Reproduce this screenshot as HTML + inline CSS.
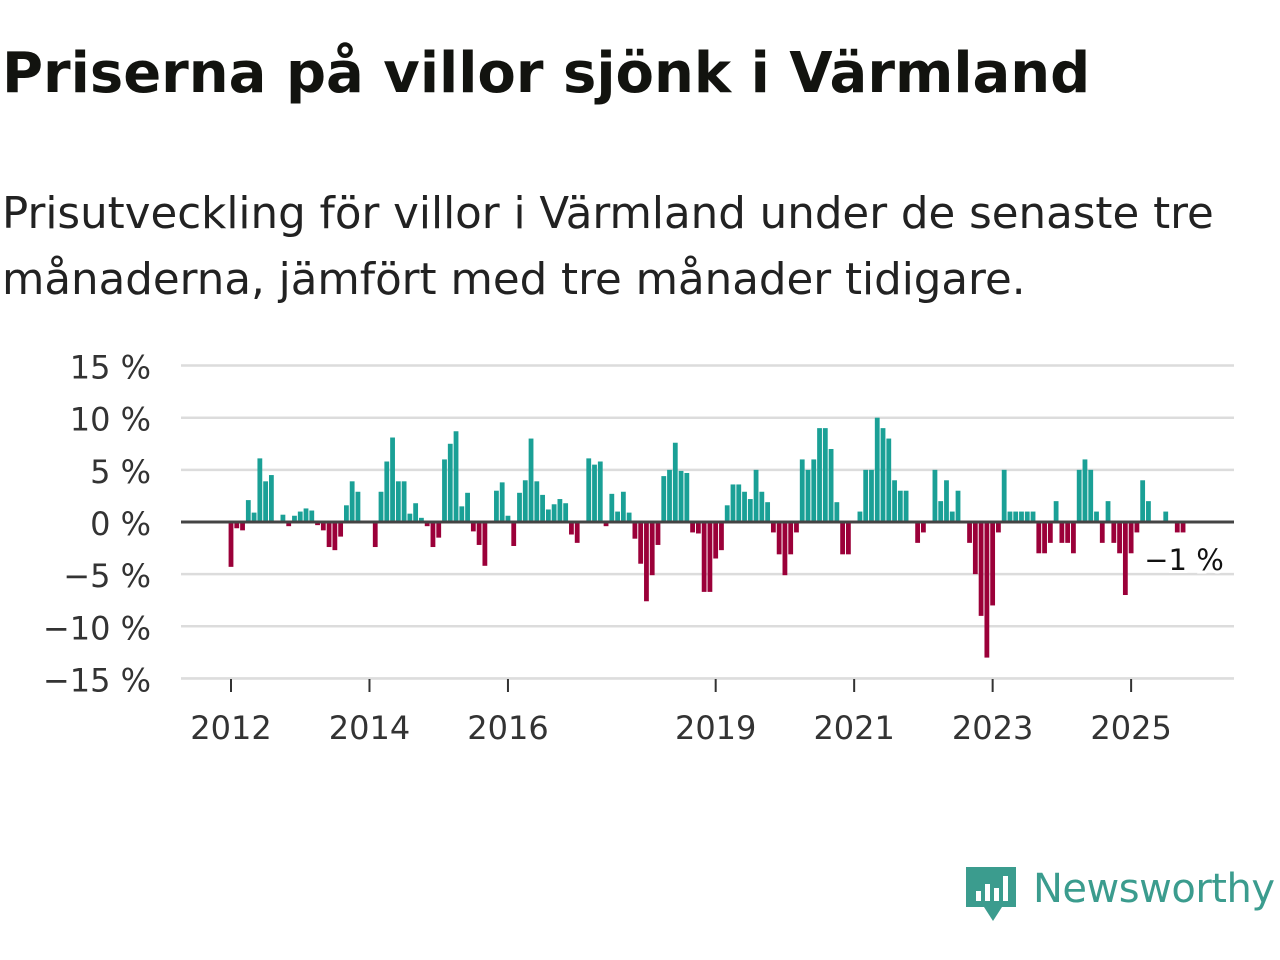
<!DOCTYPE html>
<html><head><meta charset="utf-8">
<style>
body{margin:0;background:#fff;width:1280px;height:960px;overflow:hidden;font-family:"DejaVu Sans","Liberation Sans",sans-serif;color:#111}
#title{position:absolute;left:2px;top:41px;font-size:56px;font-weight:bold;margin:0;color:#12130f;white-space:nowrap}
#sub{position:absolute;left:2px;top:181px;font-size:43.5px;line-height:66px;color:#222;margin:0;white-space:nowrap}
#logo{position:absolute;left:964px;top:862px}
</style></head><body>
<h1 id="title">Priserna på villor sjönk i Värmland</h1>
<p id="sub">Prisutveckling för villor i Värmland under de senaste tre<br>månaderna, jämfört med tre månader tidigare.</p>
<svg id="chart" width="1280" height="960" style="position:absolute;left:0;top:0"></svg>
<div id="logo">
<svg width="320" height="70">
<path d="M2 5h50v40h-14l-9 14-9-14h-18z" fill="#3b9c8e"/>
<rect x="12" y="29" width="5" height="10" fill="#fff"/><rect x="21" y="22" width="5" height="17" fill="#fff"/><rect x="30" y="26" width="5" height="13" fill="#fff"/><rect x="39" y="14" width="5" height="25" fill="#fff"/>
<text x="69" y="40" font-size="40" textLength="242" fill="#3b9c8e" font-family="DejaVu Sans, sans-serif">Newsworthy</text>
</svg></div>
<script>
const values=[-4.3,-0.6,-0.8,2.1,0.9,6.1,3.9,4.5,0,0.7,-0.4,0.6,1.0,1.3,1.1,-0.3,-0.8,-2.4,-2.7,-1.4,1.6,3.9,2.9,0,0,-2.4,2.9,5.8,8.1,3.9,3.9,0.8,1.8,0.4,-0.4,-2.4,-1.5,6.0,7.5,8.7,1.5,2.8,-0.9,-2.2,-4.2,0,3.0,3.8,0.6,-2.3,2.8,4.0,8.0,3.9,2.6,1.2,1.7,2.2,1.8,-1.2,-2.0,0,6.1,5.5,5.8,-0.4,2.7,1.0,2.9,0.9,-1.6,-4.0,-7.6,-5.1,-2.2,4.4,5.0,7.6,4.9,4.7,-1.0,-1.1,-6.7,-6.7,-3.5,-2.7,1.6,3.6,3.6,2.9,2.2,5.0,2.9,1.9,-1.0,-3.1,-5.1,-3.1,-1.0,6.0,5.0,6.0,9.0,9.0,7.0,1.9,-3.1,-3.1,0,1.0,5.0,5.0,10.0,9.0,8.0,4.0,3.0,3.0,0,-2.0,-1.0,0,5.0,2.0,4.0,1.0,3.0,0,-2.0,-5.0,-9.0,-13.0,-8.0,-1.0,5.0,1.0,1.0,1.0,1.0,1.0,-3.0,-3.0,-2.0,2.0,-2.0,-2.0,-3.0,5.0,6.0,5.0,1.0,-2.0,2.0,-2.0,-3.0,-7.0,-3.0,-1.0,4.0,2.0,0,0,1.0,0,-1.0,-1.0];
const startYear=2012;
const yTicks=[15,10,5,0,-5,-10,-15];
const yTickLabels=["15 %","10 %","5 %","0 %","\u22125 %","\u221210 %","\u221215 %"];
const xTicks=[2012,2014,2016,2019,2021,2023,2025];
const lastLabel="\u22121 %";
const svg=document.getElementById('chart');
const NS='http://www.w3.org/2000/svg';
const x0=181,x1=1234;
const xs=m=>231+m*5.77;
const xYear=y=>xs((y-startYear)*12);
const ys=v=>522-v*10.43;
function mk(t,a){const e=document.createElementNS(NS,t);for(const k in a)e.setAttribute(k,a[k]);svg.appendChild(e);return e;}
yTicks.forEach((v,i)=>{
 if(v!==0){const l=mk('line',{x1:x0,x2:x1,y1:ys(v),y2:ys(v),stroke:'#dcdcdc','stroke-width':2.5});
 
 }
 const t=mk('text',{x:151,y:ys(v)+13,'text-anchor':'end','font-size':32,fill:'#333'});
 t.textContent=yTickLabels[i];
 
 
});
values.forEach((v,m)=>{
 if(v===0)return;
 const cx=xs(m);const y=Math.min(ys(v),ys(0));const h=Math.abs(ys(v)-ys(0));
 const r=mk('rect',{x:cx-2.4,y:y,width:4.8,height:h,fill:v>0?'#1aa096':'#9b0039'});
 
 
});
const z=mk('line',{x1:x0,x2:x1,y1:ys(0),y2:ys(0),stroke:'#444','stroke-width':3});


const ax=mk('line',{x1:x0,x2:x1,y1:678,y2:678,stroke:'#ddd','stroke-width':1.5});


xTicks.forEach(yr=>{
 const px=xYear(yr);
 const tk=mk('line',{x1:px,x2:px,y1:679,y2:692,stroke:'#333','stroke-width':2});
 
 
 const t=mk('text',{x:px,y:739,'text-anchor':'middle','font-size':32,fill:'#333'});
 t.textContent=yr;
 
 
});
const lab=mk('text',{x:1184,y:570,'text-anchor':'middle','font-size':29,fill:'#111',stroke:'#fff','stroke-width':6,'paint-order':'stroke'});
lab.textContent=lastLabel;


</script>
</body></html>
